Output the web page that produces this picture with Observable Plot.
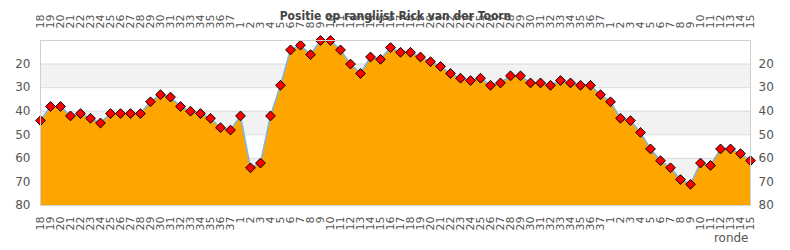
<!DOCTYPE html>
<html><head><meta charset="utf-8">
<script src="https://cdn.jsdelivr.net/npm/d3@7"></script>
<script src="https://cdn.jsdelivr.net/npm/@observablehq/plot@0.6"></script>
<style>body{margin:0;background:#fff;font-family:"DejaVu Sans",sans-serif}</style>
</head><body><div id="chart"></div>
<script>
const title = "Positie op ranglijst Rick van der Toorn";
const xTitle = "ronde";
const rounds = [18,19,20,21,22,23,24,25,26,27,28,29,30,31,32,33,34,35,36,37,
  1,2,3,4,5,6,7,8,9,10,11,12,13,14,15,16,17,18,19,20,21,22,23,24,25,26,27,28,29,30,31,32,33,34,35,36,37,
  1,2,3,4,5,6,7,8,9,10,11,12,13,14,15];
const positions = [44,38,38,42,41,43,45,41,41,41,41,36,33,34,38,40,41,43,47,48,
  42,64,62,42,29,14,12,16,10,10,14,20,24,17,18,13,15,15,17,19,21,24,26,27,26,29,28,25,25,28,28,29,27,28,29,29,33,
  36,43,44,49,56,61,64,69,71,62,63,56,56,58,61];
const yTicks = [20,30,40,50,60,70,80];
const bands = [[20,30],[40,50],[60,70]];

const data = positions.map((v,i)=>({i, v}));
const fmt = i => String(rounds[i]);
const plot = Plot.plot({
  width: 790, height: 250,
  marginLeft: 40, marginRight: 40, marginTop: 40, marginBottom: 45,
  style: {fontFamily: "DejaVu Sans", fontSize: "11px", color: "#555", background: "#fff"},
  x: {domain: [0, positions.length - 1]},
  y: {domain: [80, 10]},
  marks: [
    Plot.rect(bands, {y1: d=>d[0], y2: d=>d[1], fill: "#f2f2f2"}),
    Plot.ruleY(yTicks, {stroke: "#dcdcdc"}),
    Plot.areaY(data, {x: "i", y1: 80, y2: "v", fill: "#ffa500"}),
    Plot.line(data, {x: "i", y: "v", stroke: "#7cb5ec", strokeWidth: 1.5}),
    Plot.dot(data, {x: "i", y: "v", symbol: "diamond2", r: 4.4, fill: "#ff0000", stroke: "#000", strokeWidth: 1}),
    Plot.frame({stroke: "#d0d0d0"}),
    Plot.axisX({anchor: "top", ticks: d3.range(positions.length), tickFormat: fmt, tickRotate: -90, tickSize: 0, tickPadding: 12, label: null, fill: "#555"}),
    Plot.axisX({anchor: "bottom", ticks: d3.range(positions.length), tickFormat: fmt, tickRotate: -90, tickSize: 0, tickPadding: 11, label: null, fill: "#555"}),
    Plot.axisY({anchor: "left", ticks: yTicks, tickSize: 0, tickPadding: 10, label: null, fill: "#555", fontSize: 12}),
    Plot.axisY({anchor: "right", ticks: yTicks, tickSize: 0, tickPadding: 8, label: null, fill: "#555", fontSize: 12}),
    Plot.text([title], {frameAnchor: "top", dy: -29, fontWeight: "bold", fontSize: 12, fontFamily: "DejaVu Sans Condensed", fill: "#444"}),
    Plot.text([xTitle], {frameAnchor: "bottom-right", textAnchor: "end", lineAnchor: "middle", dx: -2, dy: 33, fontSize: 12, fill: "#555"})
  ]
});
document.getElementById("chart").appendChild(plot);
</script></body></html>
